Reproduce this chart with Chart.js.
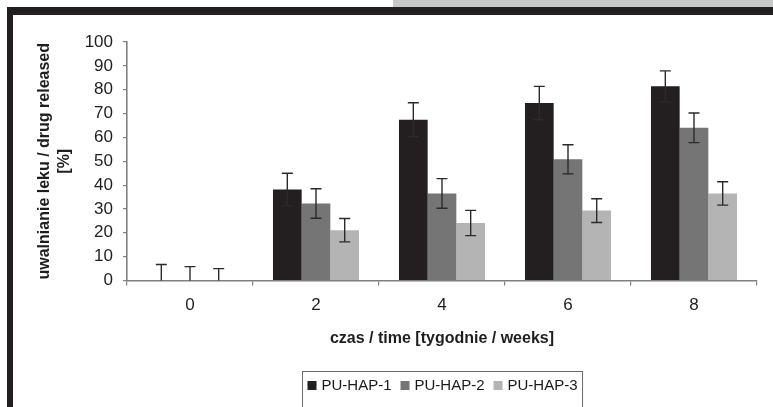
<!DOCTYPE html>
<html>
<head>
<meta charset="utf-8">
<script src="https://cdn.jsdelivr.net/npm/chart.js@4/dist/chart.umd.min.js"></script>
<style>
  html, body { margin: 0; padding: 0; background: #ffffff; }
  #wrap { position: relative; width: 773px; height: 407px; }
</style>
</head>
<body>
<div id="wrap"><canvas id="c"></canvas></div>
<script>
// ---- data ----
const categories = ['0', '2', '4', '6', '8'];
const seriesNames = ['PU-HAP-1', 'PU-HAP-2', 'PU-HAP-3'];
const hap1 = [0, 38.2, 67.4, 74.4, 81.4];
const hap2 = [0, 32.3, 36.5, 50.8, 64.0];
const hap3 = [0, 21.1, 24.1, 29.3, 36.5];
const hap1Err = [6.7, 6.8, 7.1, 7.0, 6.5];
const hap2Err = [5.8, 6.2, 6.2, 6.1, 6.2];
const hap3Err = [5.0, 4.9, 5.3, 5.0, 4.9];
const yTicks = [0, 10, 20, 30, 40, 50, 60, 70, 80, 90, 100];
const xTitle = 'czas / time [tygodnie / weeks]';
const yTitle = ['uwalnianie leku / drug released', '[%]'];

const colors = ['#231f20', '#757575', '#b4b4b4'];
const FONT = '"Liberation Sans", Arial, sans-serif';

// page decoration (scanned frame)
const framePlugin = {
  id: 'frame',
  beforeDraw(chart) {
    const ctx = chart.ctx;
    ctx.save();
    ctx.fillStyle = '#ffffff';
    ctx.fillRect(0, 0, chart.width, chart.height);
    ctx.fillStyle = '#c7c8ca';
    ctx.fillRect(393, 0, chart.width - 393, 7);
    ctx.fillStyle = '#231f20';
    ctx.fillRect(7, 7, chart.width - 7, 8);
    ctx.fillRect(7, 7, 6, chart.height - 7);
    ctx.restore();
  }
};

// error bars
const errorPlugin = {
  id: 'errbars',
  afterDatasetsDraw(chart) {
    const ctx = chart.ctx;
    const y = chart.scales.y;
    const area = chart.chartArea;
    ctx.save();
    ctx.beginPath();
    ctx.rect(area.left, area.top - 20, area.right - area.left, area.bottom - area.top + 20);
    ctx.clip();
    ctx.strokeStyle = '#2a2a2a';
    ctx.lineWidth = 1.4;
    chart.data.datasets.forEach((ds, di) => {
      const meta = chart.getDatasetMeta(di);
      meta.data.forEach((bar, i) => {
        const v = ds.data[i];
        const e = ds.errors[i];
        const x = bar.x;
        const yt = y.getPixelForValue(v + e);
        const yb = y.getPixelForValue(v - e);
        ctx.beginPath();
        ctx.moveTo(x, yt); ctx.lineTo(x, yb);
        ctx.moveTo(x - 5.5, yt); ctx.lineTo(x + 5.5, yt);
        ctx.moveTo(x - 5.5, yb); ctx.lineTo(x + 5.5, yb);
        ctx.stroke();
      });
    });
    ctx.restore();
  }
};

// boxed legend
const legendPlugin = {
  id: 'boxLegend',
  afterDraw(chart) {
    const ctx = chart.ctx;
    const area = chart.chartArea;
    ctx.save();
    ctx.font = '15px ' + FONT;
    const sq = 9, gap = 5, itemGap = 9, pad = 5;
    const items = chart.data.datasets.map(ds => ({
      label: ds.label, color: ds.backgroundColor, w: ctx.measureText(ds.label).width
    }));
    let total = pad;
    items.forEach((it, i) => { total += sq + gap + it.w + (i < items.length - 1 ? itemGap : pad); });
    const cx = (area.left + area.right) / 2;
    const left = Math.round(cx - total / 2) + 0.5;
    const top = 371.5;
    ctx.strokeStyle = '#6a6a6a';
    ctx.lineWidth = 1;
    ctx.strokeRect(left, top, total, 60);
    const cy = 385.5;
    let x = left + pad;
    ctx.textBaseline = 'middle';
    items.forEach(it => {
      ctx.fillStyle = it.color;
      ctx.fillRect(x, cy - 4.5, sq, sq);
      x += sq + gap;
      ctx.fillStyle = '#1a1a1a';
      ctx.fillText(it.label, x, cy + 0.5);
      x += it.w + itemGap;
    });
    ctx.restore();
  }
};

new Chart(document.getElementById('c'), {
  type: 'bar',
  data: {
    labels: categories,
    datasets: [
      { label: seriesNames[0], data: hap1, errors: hap1Err, backgroundColor: colors[0] },
      { label: seriesNames[1], data: hap2, errors: hap2Err, backgroundColor: colors[1] },
      { label: seriesNames[2], data: hap3, errors: hap3Err, backgroundColor: colors[2] }
    ]
  },
  options: {
    responsive: true,
    maintainAspectRatio: false,
    devicePixelRatio: 1,
    animation: false,
    layout: { padding: { top: 42, right: 16, bottom: 0, left: 0 } },
    datasets: { bar: { categoryPercentage: 0.683, barPercentage: 1.0, borderWidth: 0 } },
    plugins: {
      legend: { display: false },
      tooltip: { enabled: false }
    },
    scales: {
      x: {
        offset: true,
        grid: { display: true, offset: true, drawOnChartArea: false, drawTicks: true, tickLength: 5, color: '#808080', lineWidth: 1.2 },
        border: { display: true, color: '#808080', width: 1.6 },
        ticks: { font: { family: FONT, size: 17 }, color: '#1e1e1e', padding: 10 },
        title: { display: true, text: xTitle, font: { family: FONT, size: 16, weight: 'bold' }, color: '#1e1e1e', padding: { top: 0, bottom: 59 } },
        afterFit(s) { s.height = 126.5; }
      },
      y: {
        min: 0, max: 100,
        afterBuildTicks(s) { s.ticks = yTicks.map(v => ({ value: v })); },
        grid: { display: true, drawOnChartArea: false, drawTicks: true, tickLength: 4, color: '#808080', lineWidth: 1.2 },
        border: { display: true, color: '#808080', width: 1.6 },
        ticks: { font: { family: FONT, size: 17 }, color: '#1e1e1e', padding: 10 },
        title: { display: true, text: yTitle, font: { family: FONT, size: 16, weight: 'bold', lineHeight: 1.25 }, color: '#1e1e1e', padding: { top: 35, bottom: 0 } },
        afterFit(s) { s.width = 127; }
      }
    }
  },
  plugins: [framePlugin, errorPlugin, legendPlugin]
});
</script>
</body>
</html>
